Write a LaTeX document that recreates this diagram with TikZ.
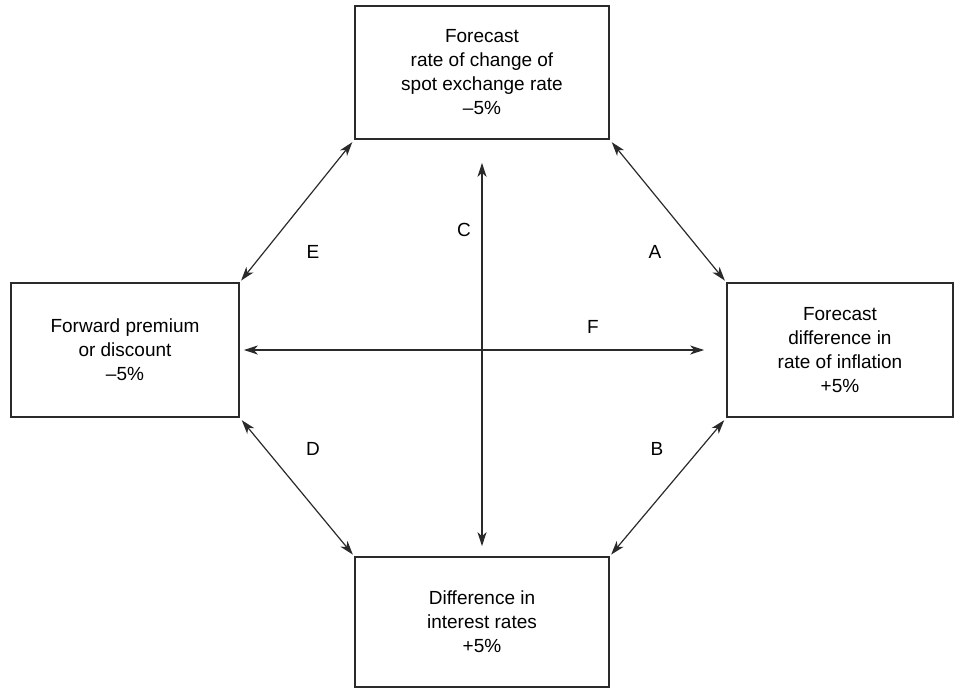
\documentclass[tikz,border=0pt]{standalone}
\usepackage{fontspec}
\setmainfont{Liberation Sans}
\usetikzlibrary{arrows.meta}
\definecolor{cline}{HTML}{2A2A2A}
\tikzset{
  every picture/.style={line width=1.1pt},
  box/.style={draw=cline, line width=1.7pt, align=center, inner sep=0pt, font=\fontsize{19}{24}\selectfont},
  link/.style={{Stealth[length=14pt,width=9pt,inset=4pt]}-{Stealth[length=14pt,width=9pt,inset=4pt]}, draw=cline, line width=1.2pt},
  tag/.style={font=\fontsize{19}{23}\selectfont},
}
\begin{document}
\begin{tikzpicture}[x=1pt,y=-1pt]
  \useasboundingbox (0,0) rectangle (955,691);
  % the four boxes
  \node[box, minimum width=254pt, minimum height=133pt] (spot) at (482,72.5) {Forecast\\rate of change of\\spot exchange rate\\--5\%};
  \node[box, minimum width=228pt, minimum height=134pt] (fwd) at (125,350) {Forward premium\\or discount\\--5\%};
  \node[box, minimum width=226pt, minimum height=134pt] (infl) at (840,350) {Forecast\\difference in\\rate of inflation\\+5\%};
  \node[box, minimum width=254pt, minimum height=130pt] (intr) at (482,622) {Difference in\\interest rates\\+5\%};
  % links between the boxes
  \draw[link, shorten <=3pt, shorten >=2pt] (spot.south west) -- (fwd.north east);
  \draw[link, shorten <=3pt, shorten >=2pt] (spot.south east) -- (infl.north west);
  \draw[link, shorten <=3pt, shorten >=2pt] (fwd.south east) -- (intr.north west);
  \draw[link, shorten <=3pt, shorten >=2pt] (infl.south west) -- (intr.north east);
  \draw[link, shorten <=23pt, shorten >=10pt] (spot.south) -- (intr.north);
  \draw[link, shorten <=4pt, shorten >=22pt] (fwd.east) -- (infl.west);
  % letters
  \node[tag] (lblE) at (313,252) {E};
  \node[tag] (lblC) at (464,230) {C};
  \node[tag] (lblA) at (655,252) {A};
  \node[tag] (lblF) at (593,327) {F};
  \node[tag] (lblD) at (313,449) {D};
  \node[tag] (lblB) at (657,449) {B};
\end{tikzpicture}
\end{document}
